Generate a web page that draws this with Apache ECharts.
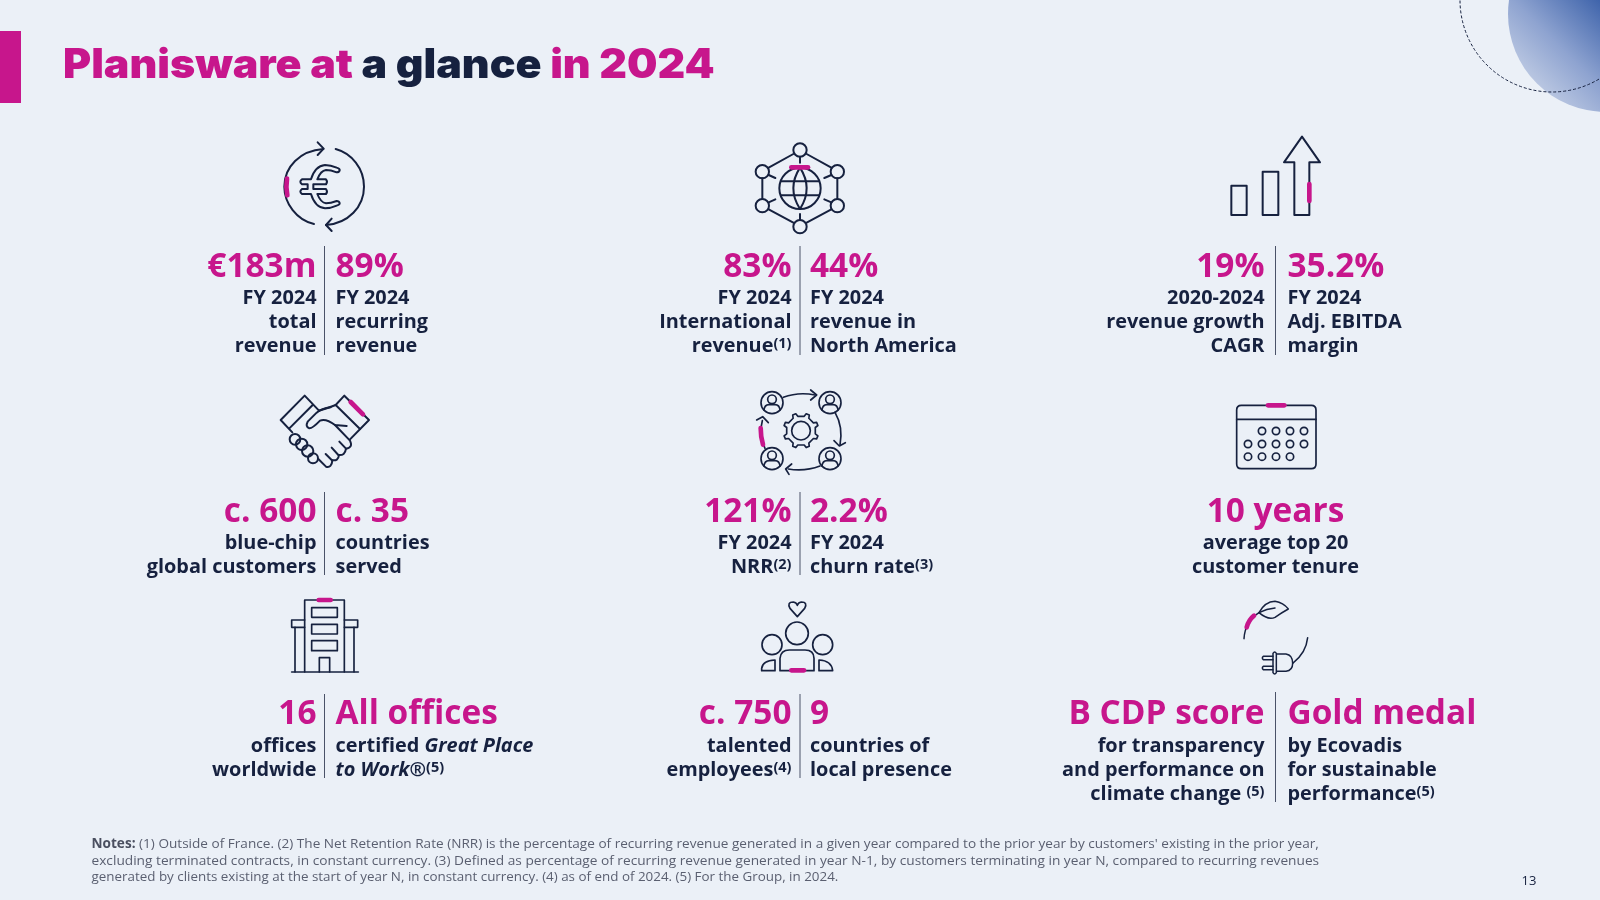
<!DOCTYPE html>
<html>
<head>
<meta charset="utf-8">
<title>Planisware at a glance in 2024</title>
<script src="https://cdn.jsdelivr.net/npm/echarts@6/dist/echarts.min.js"></script>
<style>
  html, body { margin: 0; padding: 0; background: #ebf0f7; }
</style>
</head>
<body>
<div id="main" style="width:1600px;height:900px;"></div>
<script>
// slide content, row by row
var leftValues = ['€183m', '83%', '19%', 'c. 600', '121%', '', '16', 'c. 750', 'B CDP score'];
var rightValues = ['89%', '44%', '35.2%', 'c. 35', '2.2%', '', 'All offices', '9', 'Gold medal'];
var leftCaptions = [
  ['FY 2024', 'total', 'revenue'],
  ['FY 2024', 'International', 'revenue{sup|(1)}'],
  ['2020-2024', 'revenue growth', 'CAGR'],
  ['blue-chip', 'global customers'],
  ['FY 2024', 'NRR{sup|(2)}'],
  [],
  ['offices', 'worldwide'],
  ['talented', 'employees{sup|(4)}'],
  ['for transparency', 'and performance on', 'climate change {sup|(5)}']
];
var rightCaptions = [
  ['FY 2024', 'recurring', 'revenue'],
  ['FY 2024', 'revenue in', 'North America'],
  ['FY 2024', 'Adj. EBITDA', 'margin'],
  ['countries', 'served'],
  ['FY 2024', 'churn rate{sup|(3)}'],
  [],
  ['certified {it|Great Place}', '{it|to Work®}{sup|(5)}'],
  ['countries of', 'local presence'],
  ['by Ecovadis', 'for sustainable', 'performance{sup|(5)}']
];
var tenureValue = '10 years';
var tenureCaption = ['average top 20', 'customer tenure'];
var noteLines = [
  "{b|Notes:} (1) Outside of France. (2) The Net Retention Rate (NRR) is the percentage of recurring revenue generated in a given year compared to the prior year by customers' existing in the prior year,",
  'excluding terminated contracts, in constant currency. (3) Defined as percentage of recurring revenue generated in year N-1, by customers terminating in year N, compared to recurring revenues',
  'generated by clients existing at the start of year N, in constant currency. (4) as of end of 2024. (5) For the Group, in 2024.'
];
var pageNumber = '13';

// layout
var PINK = '#c7168c', NAVY = '#16213f', BG = '#ebf0f7', FONT = '"Open Sans"';
var VALUE_SIZE = 33.4, CAP_SIZE = 19.9;
var dividerX = [324.5, 800, 1275.5];
var leftGap = [8, 8.5, 11];
var rightGap = [11, 10, 12];
var valueY = [267, 512, 714];
var captionY = [298.5, 543.5, 746.5];
var dividerSpan = [[246, 355], [492, 575], [694, 778], [692, 802]];
var noteStretch = [1.015, 1.023, 1]; // first two lines are justified in the slide

var myChart = echarts.init(document.getElementById('main'));
var els = [];

function txt(x, y, text, size, color, align, rich) {
  els.push({
    type: 'text', x: x, y: y, silent: true,
    style: {
      text: text, fill: color, fontFamily: FONT, fontSize: size, fontWeight: 700,
      textAlign: align, textVerticalAlign: 'middle', rich: rich
    }
  });
}

var capRich = {
  sup: { fontFamily: FONT, fontSize: 14.5, fontWeight: 700, fill: NAVY, verticalAlign: 'top', lineHeight: 21 },
  it: { fontFamily: FONT, fontSize: CAP_SIZE, fontWeight: 700, fontStyle: 'italic', fill: NAVY }
};

// icon paths are written in a 3x grid, each icon placed by its corner
var icons = [];
function icon(ox, oy, lw, lines, pinks) {
  icons.push({ x: ox, y: oy, lw: lw, lines: lines, pinks: pinks });
}
function ring(cx, cy, r) {
  return 'M' + (cx - r) + ' ' + cy + ' A' + r + ' ' + r + ' 0 1 1 ' + (cx + r) + ' ' + cy + ' A' + r + ' ' + r + ' 0 1 1 ' + (cx - r) + ' ' + cy + ' Z';
}
function gear(cx, cy, r1, r2, n) {
  var d = '', step = Math.PI * 2 / n;
  for (var i = 0; i < n; i++) {
    var a = i * step - step / 2;
    var p = [[r1, a - step * 0.22], [r2, a - step * 0.12], [r2, a + step * 0.12], [r1, a + step * 0.22]];
    p.forEach(function (q, k) {
      var x = (cx + q[0] * Math.cos(q[1])).toFixed(1), y = (cy + q[0] * Math.sin(q[1])).toFixed(1);
      d += (i === 0 && k === 0 ? 'M' : 'L') + x + ' ' + y + ' ';
    });
  }
  return d + 'Z';
}
function person(c, r) {
  return [ring(c[0], c[1], r), ring(c[0], c[1] - 10, 13),
    'M' + (c[0] - 24) + ' ' + (c[1] + 22) + ' Q' + (c[0] - 22) + ' ' + (c[1] + 5) + ' ' + (c[0] - 8) + ' ' + (c[1] + 6) +
    ' L' + (c[0] + 8) + ' ' + (c[1] + 6) + ' Q' + (c[0] + 22) + ' ' + (c[1] + 5) + ' ' + (c[0] + 24) + ' ' + (c[1] + 22)];
}

// corner decoration
els.push({ type: 'circle', silent: true, shape: { cx: 1606, cy: 14, r: 98 },
  style: { fill: { type: 'linear', x: 0, y: 1, x2: 1, y2: 0, colorStops: [
    { offset: 0.12, color: '#c0cce4' }, { offset: 0.3, color: '#8ea3d0' }, { offset: 0.52, color: '#3f64ab' }] } } });
els.push({ type: 'circle', silent: true, shape: { cx: 1552, cy: 0, r: 92 },
  style: { fill: 'none', stroke: NAVY, lineWidth: 1, lineDash: [3, 2] } });

// title
els.push({ type: 'rect', silent: true, shape: { x: 0, y: 31, width: 21, height: 72 }, style: { fill: PINK } });
els.push({
  type: 'text', x: 63, y: 66, scaleX: 1.047, silent: true,
  style: {
    text: '{p|Planisware at} {n|a glance} {p|in 2024}', textVerticalAlign: 'middle', textAlign: 'left',
    fontFamily: 'Inter', fontSize: 41, fontWeight: 900,
    rich: {
      p: { fontFamily: 'Inter', fontSize: 41, fontWeight: 900, fill: PINK },
      n: { fontFamily: 'Inter', fontSize: 41, fontWeight: 900, fill: NAVY }
    }
  }
});

// stat blocks
for (var i = 0; i < 9; i++) {
  var col = i % 3, row = Math.floor(i / 3);
  var dx = dividerX[col];
  if (i === 5) {
    txt(dx, valueY[row], tenureValue, VALUE_SIZE, PINK, 'center');
    tenureCaption.forEach(function (s, k) { txt(dx, captionY[row] + k * 24, s, CAP_SIZE, NAVY, 'center'); });
    continue;
  }
  var span = i === 8 ? dividerSpan[3] : dividerSpan[row];
  els.push({ type: 'line', silent: true, shape: { x1: dx, y1: span[0], x2: dx, y2: span[1] }, style: { stroke: '#4a5268', lineWidth: 1 } });
  txt(dx - leftGap[col], valueY[row], leftValues[i], VALUE_SIZE, PINK, 'right');
  txt(dx + rightGap[col], valueY[row], rightValues[i], VALUE_SIZE, PINK, 'left');
  leftCaptions[i].forEach(function (s, k) { txt(dx - leftGap[col], captionY[row] + k * 24, s, CAP_SIZE, NAVY, 'right', capRich); });
  rightCaptions[i].forEach(function (s, k) { txt(dx + rightGap[col], captionY[row] + k * 24, s, CAP_SIZE, NAVY, 'left', capRich); });
}

// icons
icon(240, 120, 6, [
  'M222 312 C170 300 133 250 133 200 C133 140 180 92 250 87', 'M233 67 L251 86 L233 105',
  'M287 87 C335 100 372 145 372 200 C372 260 325 310 258 315', 'M275 296 L258 315 L275 333',
  'M290 143 Q300 146 299 151 Q297 157 290 157 Q272 150 258 150 Q242 152 232 178 L258 178 Q264 185 258 193 L220 193 L220 207 L258 207 Q264 215 258 222 L232 222 Q242 248 258 250 Q272 250 290 243 Q297 243 299 249 Q300 254 290 257 Q272 265 255 265 Q225 262 213 222 L186 222 Q176 215 186 207 L203 207 L203 193 L186 193 Q176 185 186 178 L213 178 Q225 138 255 135 Q272 135 290 143 Z'
], ['M141 176 Q137 200 142 226']);
icon(720, 120, 6, [
  ring(240, 205, 62), 'M240 143 Q200 205 240 267 Q280 205 240 143', 'M184 184 L296 184', 'M184 226 L296 226',
  ring(240, 90, 20), ring(127, 155, 20), ring(127, 257, 20), ring(240, 320, 20), ring(352, 155, 20), ring(352, 257, 20),
  'M220 102 L146 143', 'M260 102 L334 143', 'M127 175 L127 237', 'M352 175 L352 237', 'M146 268 L220 308', 'M334 268 L260 308',
  'M240 110 L240 128', 'M240 300 L240 282', 'M146 165 L166 174', 'M334 165 L313 174', 'M146 247 L166 238', 'M334 247 L313 238'
], ['M214 142 L264 142']);
icon(1180, 120, 6, [
  'M154 197 L200 197 L200 285 L154 285 Z', 'M248 155 L295 155 L295 285 L248 285 Z',
  'M343 285 L343 127 L312 127 L366 50 L420 127 L388 127 L388 285 Z'
], ['M388 192 L388 243']);
icon(240, 380, 6, [
  'M237 92 L194 47 L122 120 L157 157', 'M218 75 L148 145',
  'M287 75 L313 47 L387 120 L330 178', 'M287 75 L360 147',
  'M237 92 Q262 85 287 75', 'M272 82 Q245 85 230 98 L203 125 Q195 140 208 145 Q218 145 240 122 Q258 115 285 135 L320 138',
  'M285 135 L330 182 Q340 203 318 206 L298 185', 'M318 206 Q315 228 295 225 L275 203',
  'M297 225 Q295 245 275 240 L257 222', 'M277 241 Q275 265 258 260 L235 237',
  ring(165, 178, 16), ring(185, 193, 17), ring(203, 213, 17), ring(219, 235, 15)
], ['M332 66 L369 103']);
var people = [[156, 68], [330, 68], [156, 236], [330, 236]];
var gearLines = [gear(243, 152, 44, 53, 8), ring(243, 152, 28),
  'M190 52 Q235 35 285 45', 'M272 30 L290 45 L272 60',
  'M345 97 Q370 140 360 195', 'M342 182 L358 198 L376 188',
  'M300 258 Q255 275 205 267', 'M215 252 L197 267 L207 283',
  'M135 205 Q115 165 127 122', 'M110 120 L128 110 L145 128'];
people.forEach(function (c) { gearLines = gearLines.concat(person(c, 33)); });
icon(720, 380, 5, gearLines, ['M122 144 Q122 172 129 194']);
var dotRows = [[123, [246, 288, 330, 372]], [162, [204, 246, 288, 330, 372]], [200, [204, 246, 288, 330]]];
var calLines = ['M184 46 L394 46 Q408 46 408 60 L408 222 Q408 236 394 236 L184 236 Q170 236 170 222 L170 60 Q170 46 184 46 Z', 'M170 88 L408 88'];
dotRows.forEach(function (r) { r[1].forEach(function (x) { calLines.push(ring(x, r[0], 11)); }); });
icon(1180, 390, 5, calLines, ['M264 46 L313 46']);
icon(260, 590, 5, [
  'M134 246 L134 30 L253 30 L253 246',
  'M155 53 L232 53 L232 82 L155 82 Z', 'M155 103 L232 103 L232 132 L155 132 Z', 'M155 152 L232 152 L232 182 L155 182 Z',
  'M178 246 L178 203 L209 203 L209 246',
  'M134 90 L95 90 L95 112 L134 112', 'M253 90 L293 90 L293 112 L253 112',
  'M105 112 L105 246', 'M282 112 L282 246', 'M95 246 L295 246'
], ['M176 30 L212 30']);
icon(730, 590, 5, [
  'M202 80 L180 55 Q170 36 190 36 Q200 38 202 46 Q204 38 214 36 Q234 36 224 55 Z',
  ring(201, 130, 34), ring(126, 164, 30), ring(278, 164, 30),
  'M150 242 L150 205 Q152 180 178 180 L225 180 Q252 180 252 205 L252 242 Z',
  'M95 242 L95 235 Q98 212 135 210 L135 242 Z', 'M267 210 Q305 212 308 242 L267 242 Z'
], ['M184 241 L222 241']);
icon(1200, 590, 4.5, [
  'M177 68 Q195 35 225 34 Q250 38 265 57 Q245 68 225 82 Q205 92 177 68 Z', 'M177 68 Q200 56 225 54',
  'M177 68 Q135 95 132 146',
  'M232 192 L258 192 Q278 195 278 220 Q278 242 258 244 L232 244',
  'M219 190 Q224 182 229 190 L229 248 Q224 256 219 248 Z',
  'M219 199 L190 199 Q184 204 190 209 L219 209', 'M219 229 L190 229 Q184 234 190 239 L219 239',
  'M278 220 Q318 190 323 143'
], ['M162 77 Q146 90 140 112']);

// footnotes
var noteRich = {
  b: { fontFamily: FONT, fontSize: 13.4, fontWeight: 700, fill: '#4a4f60' }
};
noteLines.forEach(function (s, k) {
  els.push({
    type: 'text', x: 91.5, y: 844.5 + k * 16.3, scaleX: noteStretch[k], silent: true,
    style: { text: s, fill: '#5a5f70', fontFamily: FONT, fontSize: 13.4, textAlign: 'left', textVerticalAlign: 'middle', rich: noteRich }
  });
});
els.push({
  type: 'text', x: 1529, y: 881.5, silent: true,
  style: { text: pageNumber, fill: NAVY, fontFamily: FONT, fontSize: 13, textAlign: 'center', textVerticalAlign: 'middle' }
});

function renderIcon(params) {
  var ic = icons[params.dataIndex];
  var kids = [];
  ic.lines.forEach(function (d) {
    kids.push({ type: 'path', shape: { pathData: d },
      style: { fill: 'none', stroke: NAVY, lineWidth: ic.lw, lineCap: 'round', lineJoin: 'round' } });
  });
  ic.pinks.forEach(function (d) {
    kids.push({ type: 'path', shape: { pathData: d },
      style: { fill: 'none', stroke: PINK, lineWidth: 14, lineCap: 'round', lineJoin: 'round' } });
  });
  return { type: 'group', x: ic.x, y: ic.y, scaleX: 1 / 3, scaleY: 1 / 3, children: kids };
}

var option = {
  backgroundColor: BG,
  animation: false,
  graphic: { elements: els },
  series: [{
    type: 'custom',
    coordinateSystem: 'none',
    silent: true,
    renderItem: renderIcon,
    data: icons.map(function (d, i) { return i; })
  }]
};
myChart.setOption(option);
</script>
</body>
</html>
